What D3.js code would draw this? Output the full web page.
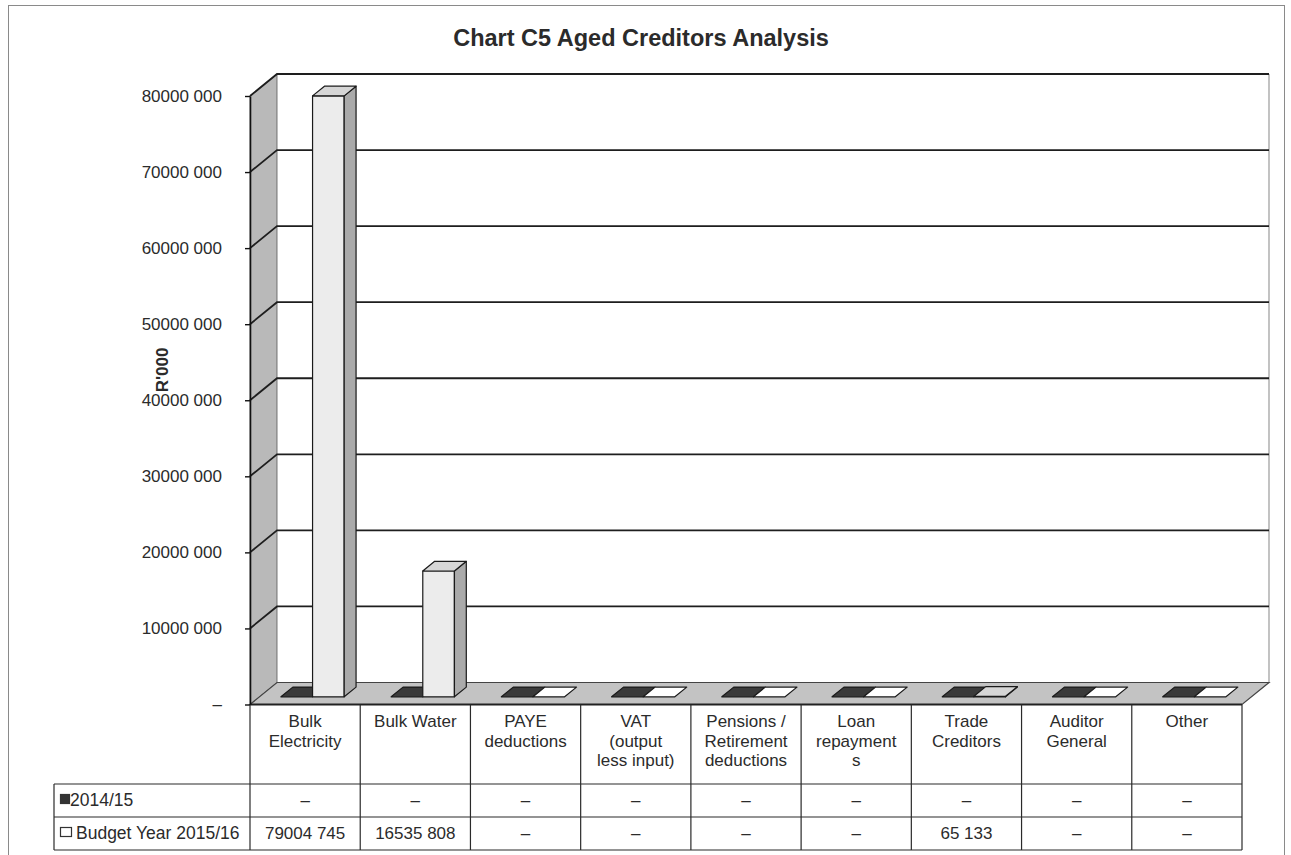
<!DOCTYPE html>
<html>
<head>
<meta charset="utf-8">
<script src="https://cdn.jsdelivr.net/npm/d3@7"></script>
<style>
  html, body { margin: 0; padding: 0; background: #fff; }
  svg { display: block; }
  text { font-family: "Liberation Sans", Arial, sans-serif; fill: #2b2b2b; }
</style>
</head>
<body>
<svg id="chart" width="1291" height="855"></svg>
<script>
// ---- data ----
const title = "Chart C5 Aged Creditors Analysis";
const yAxisTitle = "R'000";
const categories = [
  "Bulk\nElectricity", "Bulk Water", "PAYE\ndeductions", "VAT\n(output\nless input)",
  "Pensions /\nRetirement\ndeductions", "Loan\nrepayment\ns", "Trade\nCreditors",
  "Auditor\nGeneral", "Other"
];
const seriesNames = ["2014/15", "Budget Year 2015/16"];
const values2014 = [0, 0, 0, 0, 0, 0, 0, 0, 0];
const values2015 = [79004745, 16535808, 0, 0, 0, 0, 65133, 0, 0];
const yTicks = [0, 10000000, 20000000, 30000000, 40000000, 50000000, 60000000, 70000000, 80000000];

// number format used on the axis and in the data table: "79004 745", zero as a dash
const fmt = v => {
  if (!v) return "\u2013";
  const s = String(Math.round(v));
  return s.length > 3 ? s.slice(0, -3) + " " + s.slice(-3) : s;
};

const svg = d3.select("#chart");

// ---- layout ----
const plotLeft = 250, plotRight = 1242;
const depthDx = 27, depthDy = -22;           // oblique offset from front to back of the floor
const barD0 = 0.35, barD1 = 0.79;            // depth range occupied by the bars

const x = d3.scaleBand().domain(categories).range([plotLeft, plotRight]).padding(0);
const y = d3.scaleLinear().domain([0, 80000000]).range([704.5, 96]);
const bw = x.bandwidth();
const barW = bw * 0.287;
const groupOffset = (bw - 2 * barW) / 2 - 2;

const P = (xf, v, d) => [xf + d * depthDx, y(v) + d * depthDy];
const poly = pts => "M" + pts.map(p => p[0].toFixed(2) + "," + p[1].toFixed(2)).join("L") + "Z";

// chart frame
svg.append("rect").attr("x", 8.5).attr("y", 5.5).attr("width", 1276).attr("height", 870)
  .attr("fill", "#fff").attr("stroke", "#8a8a8a").attr("stroke-width", 1);

// title
svg.append("text").attr("x", 641).attr("y", 46).attr("text-anchor", "middle")
  .attr("font-size", 23.5).attr("font-weight", "bold").text(title);

// ---- walls and floor ----
const vTop = yTicks[yTicks.length - 1];
const backL = plotLeft + depthDx, backR = plotRight + depthDx;

// back wall
svg.append("path").attr("d", poly([P(plotLeft, vTop, 1), P(plotRight, vTop, 1), P(plotRight, 0, 1), P(plotLeft, 0, 1)]))
  .attr("fill", "#fff").attr("stroke", "none");
// right edge of the back wall
svg.append("line").attr("x1", backR).attr("x2", backR).attr("y1", P(0, vTop, 1)[1]).attr("y2", P(0, 0, 1)[1])
  .attr("stroke", "#9a9a9a").attr("stroke-width", 1.2);

// left side wall
svg.append("path").attr("d", poly([P(plotLeft, vTop, 0), P(plotLeft, vTop, 1), P(plotLeft, 0, 1), P(plotLeft, 0, 0)]))
  .attr("fill", "#b9b9b9").attr("stroke", "#555").attr("stroke-width", 0.8);

// floor
svg.append("path").attr("d", poly([P(plotLeft, 0, 0), P(plotLeft, 0, 1), P(plotRight, 0, 1), P(plotRight, 0, 0)]))
  .attr("fill", "#c3c3c3").attr("stroke", "#444").attr("stroke-width", 1.2);
svg.append("line").attr("x1", plotLeft).attr("x2", plotRight).attr("y1", y(0)).attr("y2", y(0))
  .attr("stroke", "#222").attr("stroke-width", 2);

// gridlines: back wall + slanted segment across the side wall
const grid = svg.append("g").attr("stroke", "#1e1e1e").attr("stroke-width", 1.8).attr("fill", "none");
yTicks.filter(t => t > 0).forEach(t => {
  const a = P(plotLeft, t, 0), b = P(plotLeft, t, 1), c = P(plotRight, t, 1);
  grid.append("path").attr("d", `M${a[0]},${a[1]}L${b[0]},${b[1]}L${c[0]},${c[1]}`);
});

// ---- y axis ----
const yAxis = d3.axisLeft(y).tickValues(yTicks).tickFormat(fmt).tickSize(5).tickSizeOuter(0).tickPadding(23);
const gy = svg.append("g").attr("transform", `translate(${plotLeft},0)`).call(yAxis);
gy.select(".domain").attr("stroke", "#111").attr("stroke-width", 1.6);
gy.selectAll(".tick line").attr("stroke", "#111").attr("stroke-width", 1.4);
gy.selectAll(".tick text").attr("font-size", 17).attr("fill", "#2b2b2b")
  .attr("font-family", "'Liberation Sans', Arial, sans-serif");

svg.append("text").attr("transform", "translate(168,370) rotate(-90)")
  .attr("text-anchor", "middle").attr("font-size", 17).attr("font-weight", "bold").text(yAxisTitle);

// ---- bars ----
const series = [
  { name: seriesNames[0], values: values2014, front: "#3a3a3a", side: "#1f1f1f", top: "#4a4a4a" },
  { name: seriesNames[1], values: values2015, front: "#ececec", side: "#aaaaaa", top: "#d6d6d6" }
];
const barsG = svg.append("g").attr("stroke", "#1a1a1a").attr("stroke-width", 1.2).attr("stroke-linejoin", "round");
categories.forEach((cat, i) => {
  series.forEach((s, si) => {
    const v = s.values[i];
    const x0 = x(cat) + groupOffset + si * barW, x1 = x0 + barW;
    const g = barsG.append("g");
    if (v > 0) {
      g.append("path").attr("d", poly([P(x0, 0, barD0), P(x1, 0, barD0), P(x1, v, barD0), P(x0, v, barD0)])).attr("fill", s.front);
      g.append("path").attr("d", poly([P(x1, 0, barD0), P(x1, 0, barD1), P(x1, v, barD1), P(x1, v, barD0)])).attr("fill", s.side);
    }
    const topFill = v > 0 ? s.top : (si === 0 ? s.front : "#fff");
    g.append("path").attr("d", poly([P(x0, v, barD0), P(x1, v, barD0), P(x1, v, barD1), P(x0, v, barD1)])).attr("fill", topFill);
  });
});

// ---- data table ----
const rowTop = 704.5, rowHeader = 784, rowMid = 817, rowBottom = 850, legendLeft = 54;
const table = svg.append("g").attr("stroke", "#2a2a2a").attr("stroke-width", 1.2);
categories.forEach(cat => {
  table.append("line").attr("x1", x(cat)).attr("x2", x(cat)).attr("y1", rowTop).attr("y2", rowBottom);
});
table.append("line").attr("x1", plotRight).attr("x2", plotRight).attr("y1", rowTop).attr("y2", rowBottom);
[rowHeader, rowMid, rowBottom].forEach(yy => {
  table.append("line").attr("x1", legendLeft).attr("x2", plotRight).attr("y1", yy).attr("y2", yy);
});
table.append("line").attr("x1", legendLeft).attr("x2", legendLeft).attr("y1", rowHeader).attr("y2", rowBottom);

// category header cells
categories.forEach(cat => {
  const t = svg.append("text").attr("text-anchor", "middle").attr("font-size", 17)
    .attr("x", x(cat) + bw / 2).attr("y", 727);
  cat.split("\n").forEach((ln, k) => {
    t.append("tspan").attr("x", x(cat) + bw / 2).attr("dy", k === 0 ? 0 : 19.5).text(ln);
  });
});

// series rows: legend key + values
const rowBase = [806, 839];
series.forEach((s, si) => {
  const by = rowBase[si];
  svg.append("rect").attr("x", 60.5).attr("y", by - 11.5).attr("width", si === 0 ? 9 : 11).attr("height", 9)
    .attr("fill", si === 0 ? "#333" : "#fff").attr("stroke", "#333").attr("stroke-width", 1.2);
  svg.append("text").attr("x", si === 0 ? 70 : 76).attr("y", by).attr("font-size", 17.5).text(s.name);
  categories.forEach((cat, i) => {
    svg.append("text").attr("x", x(cat) + bw / 2).attr("y", by).attr("text-anchor", "middle")
      .attr("font-size", 17).text(fmt(s.values[i]));
  });
});
</script>
</body>
</html>
